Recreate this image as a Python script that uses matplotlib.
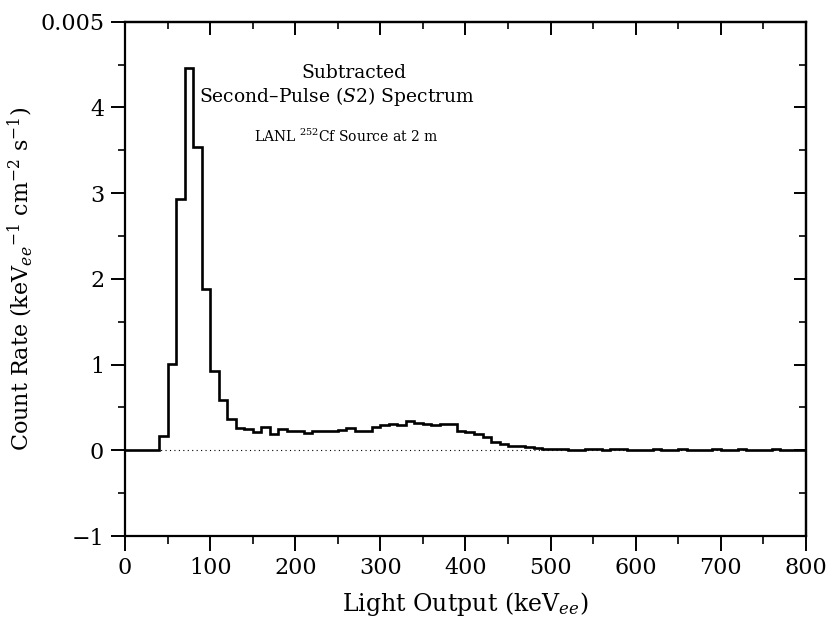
import numpy as np
import matplotlib
matplotlib.use("Agg")
import matplotlib.pyplot as plt
from matplotlib.ticker import MultipleLocator, FixedLocator

plt.rcParams['font.family'] = ['DejaVu Serif']
plt.rcParams['mathtext.fontset'] = 'dejavuserif'

# Bin edges (keV_ee), 10 keV bins
bin_edges = list(range(0, 810, 10))
# Count rate per bin (units of 1e-3)
rates = [
    0.0, 0.0, 0.0, 0.0,                      # 0-40
    0.17, 1.01, 2.93, 4.46, 3.54, 1.88,      # 40-100
    0.93, 0.59, 0.37, 0.26, 0.25, 0.21,      # 100-160
    0.27, 0.19, 0.25, 0.23, 0.22, 0.20,      # 160-220
    0.23, 0.22, 0.23, 0.24, 0.26, 0.22,      # 220-280
    0.22, 0.27, 0.30, 0.31, 0.29, 0.34,      # 280-340
    0.32, 0.31, 0.29, 0.31, 0.31, 0.22,      # 340-400
    0.21, 0.19, 0.15, 0.10, 0.07, 0.05,      # 400-460
    0.05, 0.04, 0.03, 0.02, 0.01, 0.01,      # 460-520
    0.00, 0.00, 0.01, 0.01, 0.00, 0.02,      # 520-580
    0.01, 0.00, 0.00, 0.00, 0.01, 0.00,      # 580-640
    0.00, 0.01, 0.00, 0.00, 0.00, 0.01,      # 640-700
    0.00, 0.00, 0.01, 0.00, 0.00, 0.00,      # 700-760
    0.01, 0.00, 0.00, 0.00,                  # 760-800
]

y_ticks = [-1, 0, 1, 2, 3, 4, 5]
y_tick_labels = ['\u22121', '0', '1', '2', '3', '4', '0.005']
x_ticks = [0, 100, 200, 300, 400, 500, 600, 700, 800]

fig = plt.figure(figsize=(8.34, 6.35), dpi=100)
ax = fig.add_axes([0.1499, 0.1559, 0.9664 - 0.1499, 0.9658 - 0.1559])

ax.axhline(0, color='black', lw=0.8, ls=(0, (1, 3)), zorder=1)
ax.stairs(rates, bin_edges, color='black', lw=1.9, zorder=2)

ax.set_xlim(0, 800)
ax.set_ylim(-1, 5)
ax.set_xticks(x_ticks)
ax.set_yticks(y_ticks)
ax.set_yticklabels(y_tick_labels)
ax.xaxis.set_minor_locator(MultipleLocator(50))
ax.yaxis.set_minor_locator(MultipleLocator(0.5))

ax.tick_params(axis='both', which='major', labelsize=16, width=1.4)
ax.tick_params(axis='both', which='minor', width=1.2)
ax.tick_params(axis='x', which='major', direction='out', length=11, pad=4, top=False)
ax.tick_params(axis='x', which='minor', direction='out', length=6, top=False)
ax.tick_params(axis='y', which='major', direction='out', length=10, pad=5, right=False)
ax.tick_params(axis='y', which='minor', direction='out', length=5, right=False)

# mirrored inward ticks on top and right
sec_x = ax.secondary_xaxis('top')
sec_x.set_xticks(x_ticks)
sec_x.xaxis.set_minor_locator(MultipleLocator(50))
sec_x.tick_params(which='major', direction='in', length=9, width=1.4, labeltop=False)
sec_x.tick_params(which='minor', direction='in', length=5, width=1.2)
sec_y = ax.secondary_yaxis('right')
sec_y.set_yticks(y_ticks)
sec_y.yaxis.set_minor_locator(MultipleLocator(0.5))
sec_y.tick_params(which='major', direction='in', length=9, width=1.4, labelright=False)
sec_y.tick_params(which='minor', direction='in', length=5, width=1.2)
for s in list(ax.spines.values()) + [sec_x.spines['top'], sec_y.spines['right']]:
    s.set_linewidth(1.6)

ax.set_xlabel('Light Output (keV$_{ee}$)', fontsize=17, labelpad=8)
ax.set_ylabel('Count Rate (keV$_{ee}$$^{-1}$ cm$^{-2}$ s$^{-1}$)', fontsize=16, labelpad=4)

ax.text(269, 4.4, 'Subtracted', ha='center', va='center', fontsize=13.5)
ax.text(249, 4.13, 'Second\u2013Pulse ($S2$) Spectrum', ha='center', va='center', fontsize=13.5)
ax.text(260, 3.66, 'LANL $^{252}$Cf Source at 2 m', ha='center', va='center', fontsize=10)

fig.savefig('out.png', dpi=100)
